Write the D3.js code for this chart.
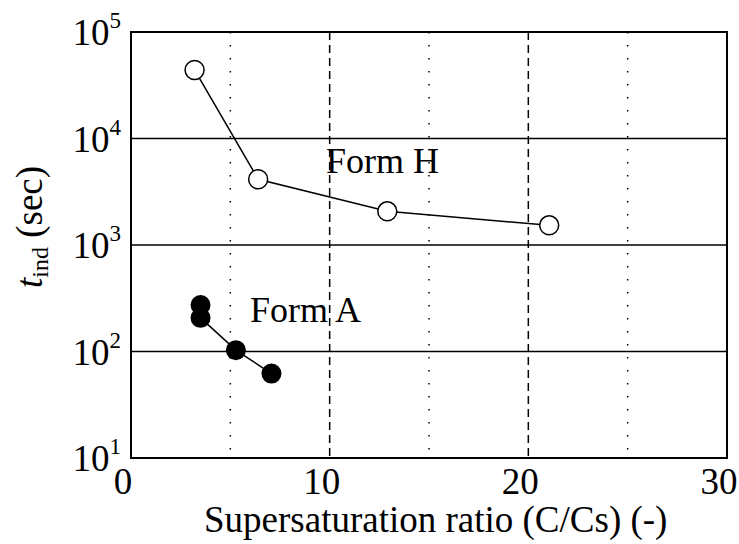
<!DOCTYPE html>
<html>
<head>
<meta charset="utf-8">
<script src="https://cdn.jsdelivr.net/npm/d3@7"></script>
<style>
  body { margin: 0; background: #fff; }
  text { font-family: "Liberation Serif", "Times New Roman", serif; fill: #000; }
</style>
</head>
<body>
<div id="chart"></div>
<script>
// data
const formHX = [3.2, 6.4, 12.9, 21.05];
const formHY = [44000, 4140, 2070, 1530];
const formAX = [3.5, 3.5, 5.28, 7.07];
const formAY = [273, 207, 103, 62];
const xTicks = [0, 10, 20, 30];
const xMinor = [5, 15, 25];
const yExponents = [1, 2, 3, 4, 5];

const width = 739, height = 544;
const margin = { left: 131, right: 12, top: 32, bottom: 86 };

const svg = d3.select("#chart").append("svg")
    .attr("width", width)
    .attr("height", height);

const x = d3.scaleLinear().domain([0, 30]).range([margin.left, width - margin.right]);
const y = d3.scaleLog().domain([10, 1e5]).range([height - margin.bottom, margin.top]);

// annotations (behind grid)
svg.append("text").attr("x", 326).attr("y", 173).attr("font-size", 36).text("Form H");
svg.append("text").attr("x", 250).attr("y", 322).attr("font-size", 36).text("Form A");

// grid
svg.selectAll(".vdot").data(xMinor).enter().append("line")
    .attr("x1", d => x(d)).attr("x2", d => x(d))
    .attr("y1", y(1e5)).attr("y2", y(10))
    .attr("stroke", "#000").attr("stroke-width", 1.5)
    .attr("stroke-dasharray", "1.5,11.5");

svg.selectAll(".vdash").data([10, 20]).enter().append("line")
    .attr("x1", d => x(d)).attr("x2", d => x(d))
    .attr("y1", y(1e5)).attr("y2", y(10))
    .attr("stroke", "#000").attr("stroke-width", 1.5)
    .attr("stroke-dasharray", "8,5");

svg.selectAll(".hgrid").data([2, 3, 4]).enter().append("line")
    .attr("x1", x(0)).attr("x2", x(30))
    .attr("y1", d => y(Math.pow(10, d))).attr("y2", d => y(Math.pow(10, d)))
    .attr("stroke", "#000").attr("stroke-width", 1.5);

// frame
svg.append("rect")
    .attr("x", x(0)).attr("y", y(1e5))
    .attr("width", x(30) - x(0)).attr("height", y(10) - y(1e5))
    .attr("fill", "none").attr("stroke", "#000").attr("stroke-width", 2);

// x tick labels
svg.selectAll(".xt").data(xTicks).enter().append("text")
    .attr("x", d => x(d) - 8)
    .attr("y", y(10) + 36)
    .attr("text-anchor", "middle")
    .attr("font-size", 37)
    .text(d => d);

// y tick labels 10^n
const yt = svg.selectAll(".yt").data(yExponents).enter().append("text")
    .attr("x", 121)
    .attr("y", d => y(Math.pow(10, d)) + 13)
    .attr("text-anchor", "end")
    .attr("font-size", 37);
yt.append("tspan").text("10");
yt.append("tspan").attr("font-size", 23).attr("dy", -17).text(d => d);

// axis titles
svg.append("text")
    .attr("x", 204).attr("y", 532)
    .attr("font-size", 37)
    .text("Supersaturation ratio (C/Cs) (-)");

const yl = svg.append("text")
    .attr("transform", "translate(42,288) rotate(-90)")
    .attr("font-size", 37);
yl.append("tspan").attr("font-style", "italic").text("t");
yl.append("tspan").attr("font-size", 24).attr("dy", 6).text("ind");
yl.append("tspan").attr("dy", -6).text(" (sec)");

// series
const line = d3.line().x(d => x(d[0])).y(d => y(d[1]));
const hData = formHX.map((v, i) => [v, formHY[i]]);
const aData = formAX.map((v, i) => [v, formAY[i]]);

svg.append("path").datum(hData).attr("d", line)
    .attr("fill", "none").attr("stroke", "#000").attr("stroke-width", 1.5);
svg.append("path").datum(aData).attr("d", line)
    .attr("fill", "none").attr("stroke", "#000").attr("stroke-width", 1.5);

svg.selectAll(".hpt").data(hData).enter().append("circle")
    .attr("cx", d => x(d[0])).attr("cy", d => y(d[1])).attr("r", 9.5)
    .attr("fill", "#fff").attr("stroke", "#000").attr("stroke-width", 1.5);
svg.selectAll(".apt").data(aData).enter().append("circle")
    .attr("cx", d => x(d[0])).attr("cy", d => y(d[1])).attr("r", 10)
    .attr("fill", "#000");
</script>
</body>
</html>
